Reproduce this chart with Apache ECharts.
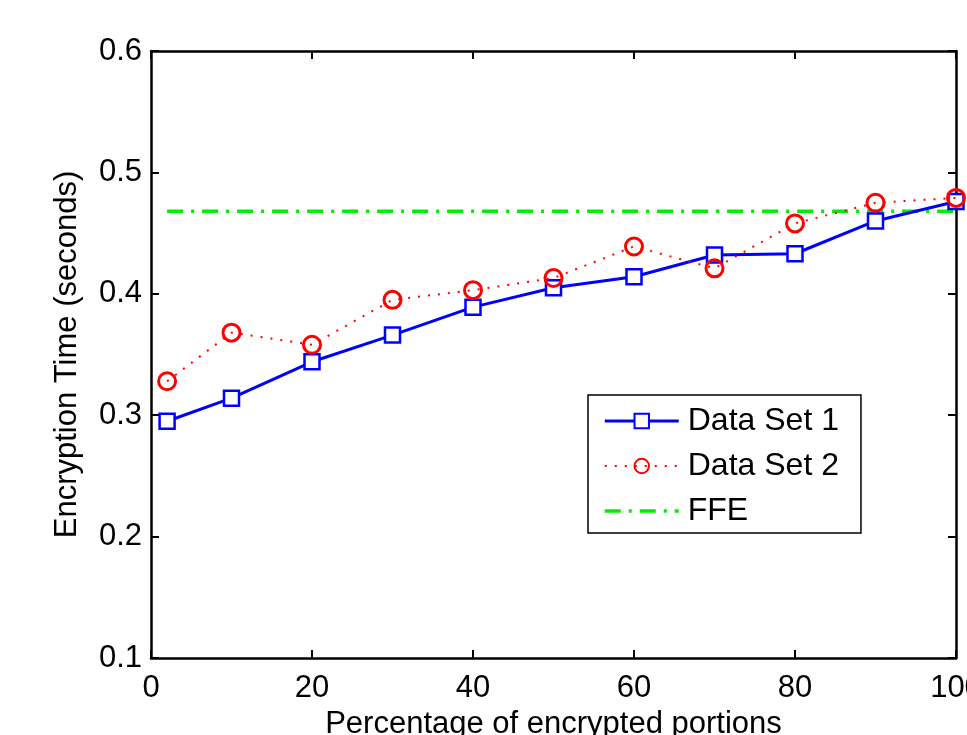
<!DOCTYPE html>
<html><head><meta charset="utf-8">
<script src="https://cdn.jsdelivr.net/npm/echarts@6/dist/echarts.min.js"></script>
<style>html,body{margin:0;padding:0;background:#fff}#c{width:967px;height:735px}</style>
</head><body><div id="c"></div>
<script>
const xValues = [2, 10, 20, 30, 40, 50, 60, 70, 80, 90, 100];
const dataSet1 = [0.295, 0.314, 0.344, 0.366, 0.389, 0.405, 0.414, 0.432, 0.433, 0.460, 0.476];
const dataSet2 = [0.328, 0.368, 0.358, 0.395, 0.403, 0.413, 0.439, 0.421, 0.458, 0.475, 0.479];
const ffeX = [2, 100];
const ffeValue = 0.468;
const xTicks = [0, 20, 40, 60, 80, 100];
const yTicks = [0.1, 0.2, 0.3, 0.4, 0.5, 0.6];

const font = 'Liberation Sans, Arial, Helvetica, sans-serif';
const chart = echarts.init(document.getElementById('c'));
const axisLine = {show: true, onZero: false, lineStyle: {color: '#000', width: 2.5}};
const axisTick = {show: true, inside: true, length: 8, lineStyle: {color: '#000', width: 2}};
chart.setOption({
  backgroundColor: '#fff',
  animation: false,
  grid: {left: 151, top: 51, right: 11, bottom: 77, containLabel: false, outerBoundsMode: 'none'},
  legend: {
    left: 588, top: 395, orient: 'vertical',
    backgroundColor: '#fff', borderColor: '#000', borderWidth: 1.5,
    padding: [10, 22, 6, 15], itemGap: 13, itemWidth: 74, itemHeight: 18,
    textStyle: {fontFamily: font, fontSize: 32, color: '#000', padding: [0, 0, 0, 4]},
    data: [
      {name: 'Data Set 1', lineStyle: {width: 3}},
      {name: 'Data Set 2', lineStyle: {width: 2}},
      {name: 'FFE', itemStyle: {opacity: 0}, lineStyle: {width: 3.5}}
    ]
  },
  xAxis: [{
    type: 'value', min: xTicks[0], max: xTicks[xTicks.length - 1], interval: 20,
    axisLine, axisTick, splitLine: {show: false},
    axisLabel: {fontFamily: font, fontSize: 31, color: '#000', margin: 15},
    name: 'Percentage of encrypted portions', nameLocation: 'middle', nameGap: 45,
    nameTextStyle: {fontFamily: font, fontSize: 31, color: '#000'}
  }, {
    type: 'value', position: 'top', min: xTicks[0], max: xTicks[xTicks.length - 1], interval: 20,
    axisLine, axisTick, axisLabel: {show: false}, splitLine: {show: false}
  }],
  yAxis: [{
    type: 'value', min: yTicks[0], max: yTicks[yTicks.length - 1], interval: 0.1,
    axisLine, axisTick, splitLine: {show: false},
    axisLabel: {fontFamily: font, fontSize: 31, color: '#000', margin: 9, formatter: v => v.toFixed(1)},
    name: 'Encryption Time (seconds)', nameLocation: 'middle', nameGap: 68, nameRotate: 90,
    nameTextStyle: {fontFamily: font, fontSize: 31, color: '#000'}
  }, {
    type: 'value', position: 'right', min: yTicks[0], max: yTicks[yTicks.length - 1], interval: 0.1,
    axisLine, axisTick, axisLabel: {show: false}, splitLine: {show: false}
  }],
  series: [
    {
      name: 'FFE', type: 'line', z: 1,
      data: ffeX.map(x => [x, ffeValue]),
      symbol: 'none', color: '#00ee00',
      itemStyle: {opacity: 0},
      lineStyle: {color: '#00ee00', width: 3.5, type: [16, 8, 3, 8]}
    },
    {
      name: 'Data Set 1', type: 'line', z: 3,
      data: xValues.map((x, i) => [x, dataSet1[i]]),
      symbol: 'rect', symbolSize: 15, color: '#0000ff',
      itemStyle: {color: '#fff', borderColor: '#0000ff', borderWidth: 2.5},
      lineStyle: {color: '#0000ff', width: 3}
    },
    {
      name: 'Data Set 2', type: 'line', z: 4,
      data: xValues.map((x, i) => [x, dataSet2[i]]),
      symbol: 'circle', symbolSize: 17, color: '#ff0000',
      itemStyle: {color: 'rgba(255,255,255,0)', borderColor: '#ff0000', borderWidth: 3},
      lineStyle: {color: '#ff0000', width: 2, type: [2, 8]}
    }
  ]
});
</script></body></html>
